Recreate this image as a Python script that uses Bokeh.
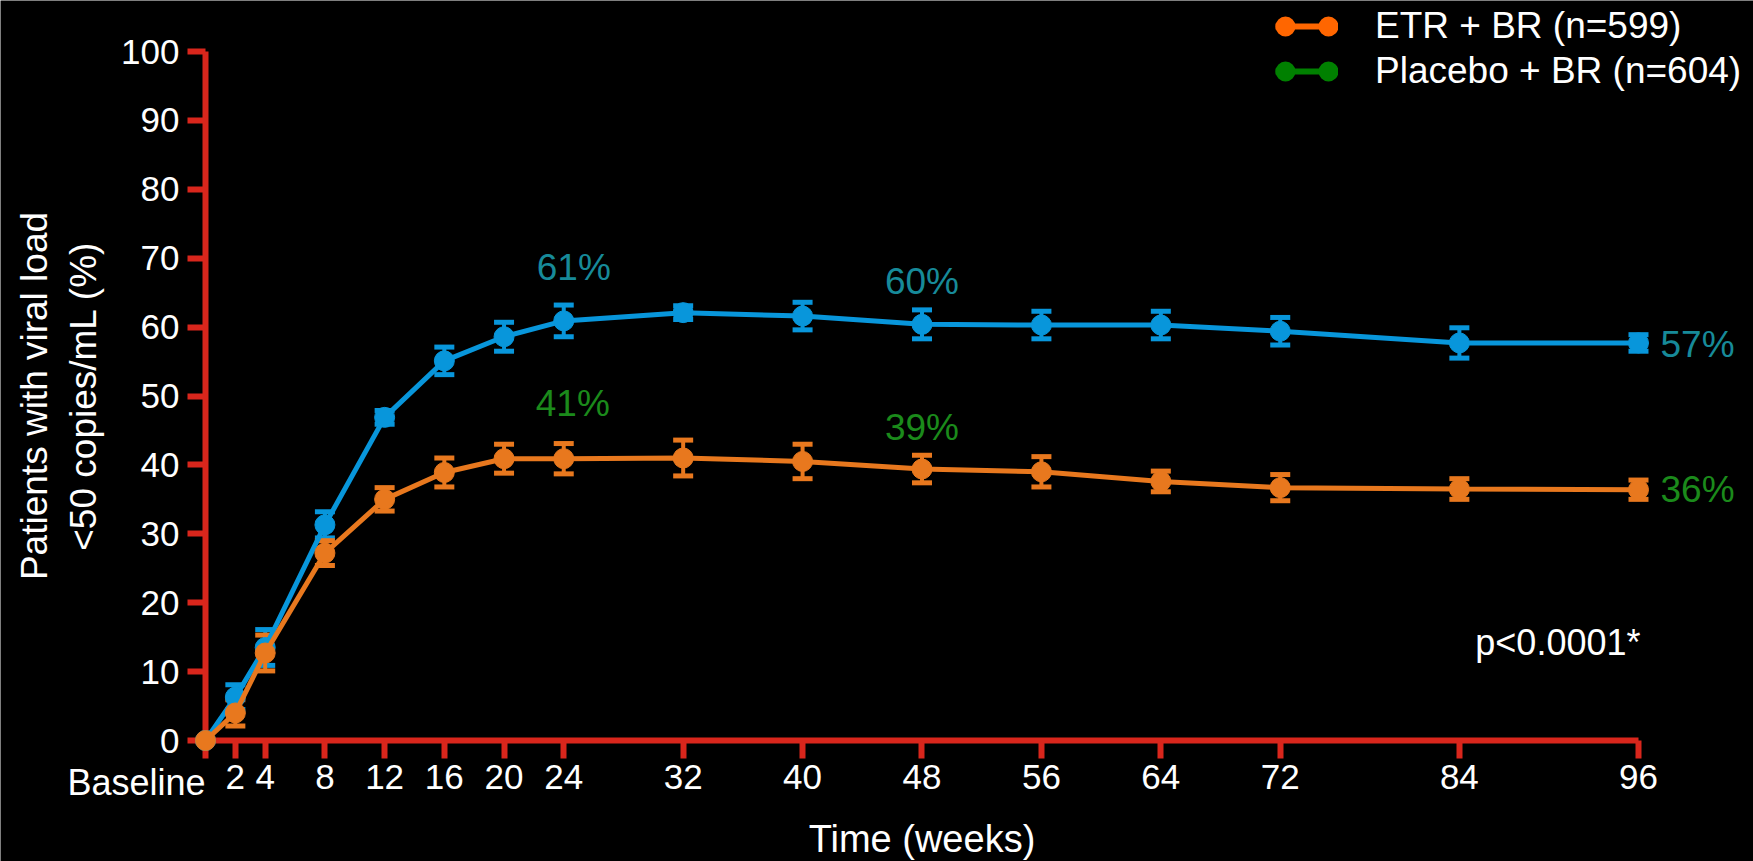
from bokeh.plotting import figure
from bokeh.models import (ColumnDataSource, LinearAxis, FixedTicker, Range1d, Whisker,
                          TeeHead, Label, Legend, LegendItem)
from bokeh.embed import file_html
from bokeh.resources import INLINE

# ---------------- data ----------------
weeks = [0, 2, 4, 8, 12, 16, 20, 24, 32, 40, 48, 56, 64, 72, 84, 96]
week_labels = ["Baseline", "2", "4", "8", "12", "16", "20", "24", "32", "40",
               "48", "56", "64", "72", "84", "96"]
y_ticks = [0, 10, 20, 30, 40, 50, 60, 70, 80, 90, 100]

blue_vals = [0, 6.3, 13.5, 31.3, 46.9, 55.1, 58.6, 60.9, 62.1, 61.6, 60.4, 60.3, 60.3, 59.4, 57.7, 57.7]
blue_err = [0, 1.8, 2.6, 1.9, 1.0, 2.0, 2.1, 2.3, 1.0, 2.0, 2.1, 2.0, 2.0, 2.0, 2.2, 1.2]
orange_vals = [0, 4.0, 12.7, 27.2, 35.0, 38.9, 40.9, 40.9, 41.0, 40.5, 39.4, 39.0, 37.6, 36.7, 36.5, 36.4]
orange_err = [0, 1.9, 2.6, 1.8, 1.7, 2.1, 2.1, 2.2, 2.6, 2.5, 2.0, 2.2, 1.5, 1.9, 1.5, 1.4]

# reported response rates shown on the chart
ann_weeks = [24, 48, 96]
ann_blue = ["61%", "60%", "57%"]
ann_orange = ["41%", "39%", "36%"]

legend_labels = ["ETR + BR (n=599)", "Placebo + BR (n=604)"]
p_value_text = "p<0.0001*"

# ---------------- style ----------------
FONT = "Liberation Sans"
BG = "#000000"
AXIS_RED = "#d9261c"
BLUE = "#0896db"
ORANGE = "#e8781e"
TEAL_TXT = "#178a99"
GREEN_TXT = "#1b8a1b"
LEG_ORANGE = "#ff6600"
LEG_GREEN = "#008000"

W, H = 1753, 861
PXW = 14.927   # px per week
PXP = 6.89     # px per percent
X0 = 205       # canvas x of week 0
Y0 = 740       # canvas y of 0 %

p = figure(width=W, height=H, output_backend="svg", toolbar_location=None,
           x_axis_type=None, y_axis_type=None, title=None,
           x_range=Range1d(-X0 / PXW, (W - X0) / PXW),
           y_range=Range1d(-(H - Y0) / PXP, Y0 / PXP),
           min_border_left=0, min_border_right=0, min_border_top=0, min_border_bottom=0)
p.background_fill_color = BG
p.border_fill_color = BG
p.outline_line_color = None
p.xgrid.visible = False
p.ygrid.visible = False

# ---------------- axes ----------------
def style_axis(ax):
    ax.level = "underlay"
    ax.axis_line_color = AXIS_RED
    ax.axis_line_width = 6
    ax.major_tick_line_color = AXIS_RED
    ax.major_tick_line_width = 6
    ax.major_tick_in = 0
    ax.major_tick_out = 18
    ax.minor_tick_line_color = None
    ax.major_label_text_color = "white"
    ax.major_label_text_font = FONT
    ax.major_label_text_font_size = "35px"
    ax.axis_label_text_color = "white"
    ax.axis_label_text_font = FONT
    ax.axis_label_text_font_style = "normal"

xaxis = LinearAxis(fixed_location=0, bounds=(0, 96), ticker=FixedTicker(ticks=weeks),
                   major_label_overrides={w: ("" if w == 0 else lab) for w, lab in zip(weeks, week_labels)},
                   axis_label="Time (weeks)")
style_axis(xaxis)
xaxis.major_label_standoff = 6
xaxis.axis_label_standoff = 26
xaxis.axis_label_text_font_size = "38px"
p.add_layout(xaxis, "below")

yaxis = LinearAxis(fixed_location=0, bounds=(0, 100), ticker=FixedTicker(ticks=y_ticks),
                   axis_label="Patients with viral load\n<50 copies/mL (%)")
style_axis(yaxis)
yaxis.major_label_standoff = 8
yaxis.axis_label_standoff = 14
yaxis.axis_label_text_font_size = "37px"
p.add_layout(yaxis, "left")

p.add_layout(Label(x=weeks[0], y=0, y_offset=-42, text=week_labels[0], text_align="right",
                   text_baseline="middle", text_color="white", text_font=FONT,
                   text_font_size="36px"))

# ---------------- series ----------------
def add_series(vals, errs, color):
    src = ColumnDataSource(dict(x=weeks, y=vals))
    p.line("x", "y", source=src, line_color=color, line_width=5)
    p.scatter("x", "y", source=src, size=20, fill_color=color, line_color=color)
    keep = [i for i, e in enumerate(errs) if e > 0]
    wsrc = ColumnDataSource(dict(
        x=[weeks[i] for i in keep],
        lo=[vals[i] - errs[i] for i in keep],
        hi=[vals[i] + errs[i] for i in keep]))
    w = Whisker(source=wsrc, base="x", lower="lo", upper="hi", dimension="height",
                line_color=color, line_width=4,
                upper_head=TeeHead(size=20, line_color=color, line_width=5),
                lower_head=TeeHead(size=20, line_color=color, line_width=5))
    p.add_layout(w)

add_series(blue_vals, blue_err, BLUE)
add_series(orange_vals, orange_err, ORANGE)

# ---------------- annotations ----------------
def pct_label(week, vals, text, color, xo, yo, align="center"):
    i = weeks.index(week)
    p.add_layout(Label(x=week, y=vals[i], x_offset=xo, y_offset=yo,
                       text=text, text_align=align, text_baseline="middle",
                       text_color=color, text_font=FONT, text_font_size="37px"))

offsets_blue = [(10, 53, "center"), (0, 43, "center"), (22, -2, "left")]
offsets_orange = [(9, 55, "center"), (0, 42, "center"), (22, 0, "left")]
for wk, tb, to, ob, oo in zip(ann_weeks, ann_blue, ann_orange, offsets_blue, offsets_orange):
    pct_label(wk, blue_vals, tb, TEAL_TXT, *ob)
    pct_label(wk, orange_vals, to, GREEN_TXT, *oo)

p.add_layout(Label(x=weeks[-1], y=14.2, x_offset=2, text=p_value_text, text_align="right",
                   text_baseline="middle", text_color="white", text_font=FONT,
                   text_font_size="36px"))

# ---------------- legend ----------------
nan = float("nan")
items = []
for lab, col in zip(legend_labels, [LEG_ORANGE, LEG_GREEN]):
    r_line = p.line([nan], [nan], line_color=col, line_width=6)
    r_dots = p.line([nan], [nan], line_color=col, line_width=20, line_cap="round",
                    line_dash="0 43", line_dash_offset=33)
    items.append(LegendItem(label=lab, renderers=[r_line, r_dots]))

legend = Legend(items=items, location=(1275, 769), orientation="vertical",
                glyph_width=63, glyph_height=24, label_standoff=37, spacing=3,
                padding=0, margin=0, background_fill_alpha=0, border_line_color=None,
                label_text_color="white", label_text_font=FONT, label_text_font_size="37px")
p.add_layout(legend, "center")

open("out.html", "w").write(file_html(p, INLINE))
